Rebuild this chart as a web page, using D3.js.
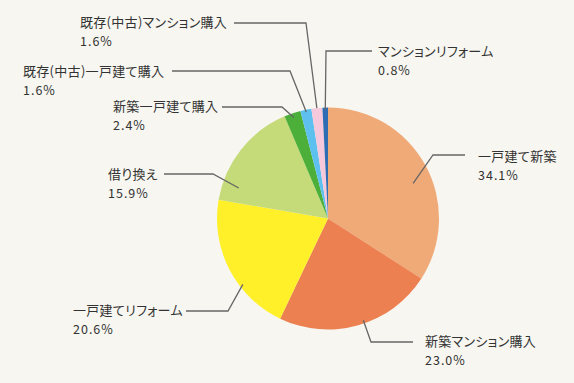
<!DOCTYPE html>
<html><head><meta charset="utf-8">
<script src="https://cdn.jsdelivr.net/npm/d3@7"></script>
<style>
html,body{margin:0;padding:0;background:#f7f6f0;}
svg{display:block;}
text{font-family:"Noto Sans CJK JP","Noto Sans",sans-serif;font-size:12.5px;fill:#333;}
text.lab{font-size:13px;font-feature-settings:"palt";letter-spacing:0.3px;}
text.pct{letter-spacing:1px;}
</style></head><body>
<svg id="c" width="574" height="383"></svg>
<script>
const categories = ["一戸建て新築","新築マンション購入","一戸建てリフォーム","借り換え","新築一戸建て購入","既存(中古)一戸建て購入","既存(中古)マンション購入","マンションリフォーム"];
const values = [34.1, 23.0, 20.6, 15.9, 2.4, 1.6, 1.6, 0.8];
const valueLabels = ["34.1%","23.0%","20.6%","15.9%","2.4%","1.6%","1.6%","0.8%"];
const colors = ["#f0aa78","#ec8050","#fff02a","#c5da78","#4baf3a","#5ec0ee","#f5c8dc","#2e6db4"];

// leader layout: t = position within slice, r = radius ratio, ly = elbow y, lx1 = elbow x, lx2 = line end near text, tx/ty = text anchor
const layout = [
  {t:0.55, r:0.83, ly:155, lx1:433, lx2:465, tx:478, ty:161},
  {t:0.46, r:0.97, ly:342, lx1:371, lx2:413, tx:425, ty:346},
  {t:0.36, r:0.97, ly:311, lx1:228, lx2:186, tx:73,  ty:315},
  {t:0.16, r:0.85, ly:174, lx1:213, lx2:164, tx:108, ty:179},
  {t:0.5,  r:0.96, ly:107, lx1:282, lx2:222, tx:113, ty:111},
  {t:0.5,  r:0.98, ly:71,  lx1:290, lx2:172, tx:23,  ty:76},
  {t:0.5,  r:1.0,  ly:23,  lx1:306, lx2:234, tx:80,  ty:27},
  {t:0.5,  r:0.98, ly:51,  lx1:326, lx2:372, tx:378, ty:56}
];

const svg = d3.select("#c");
const cx = 328, cy = 218.5, R = 111;
const g = svg.append("g").attr("transform", `translate(${cx},${cy})`);
const pie = d3.pie().sort(null).value(d => d)(values);
const arc = d3.arc().innerRadius(0).outerRadius(R);
g.selectAll("path").data(pie).enter().append("path")
  .attr("d", arc).attr("fill", (d,i) => colors[i]);

pie.forEach((p, i) => {
  const L = layout[i];
  const a = p.startAngle + (p.endAngle - p.startAngle) * L.t;
  const px = cx + Math.sin(a) * R * L.r;
  const py = cy - Math.cos(a) * R * L.r;
  svg.append("polyline")
    .attr("points", `${px},${py} ${L.lx1},${L.ly} ${L.lx2},${L.ly}`)
    .attr("fill", "none").attr("stroke", "#666").attr("stroke-width", 1.3);
  svg.append("text").attr("class","lab").attr("x", L.tx).attr("y", L.ty).text(categories[i]);
  svg.append("text").attr("class","pct").attr("x", L.tx).attr("y", L.ty + 19).text(valueLabels[i]);
});
</script>
</body></html>
